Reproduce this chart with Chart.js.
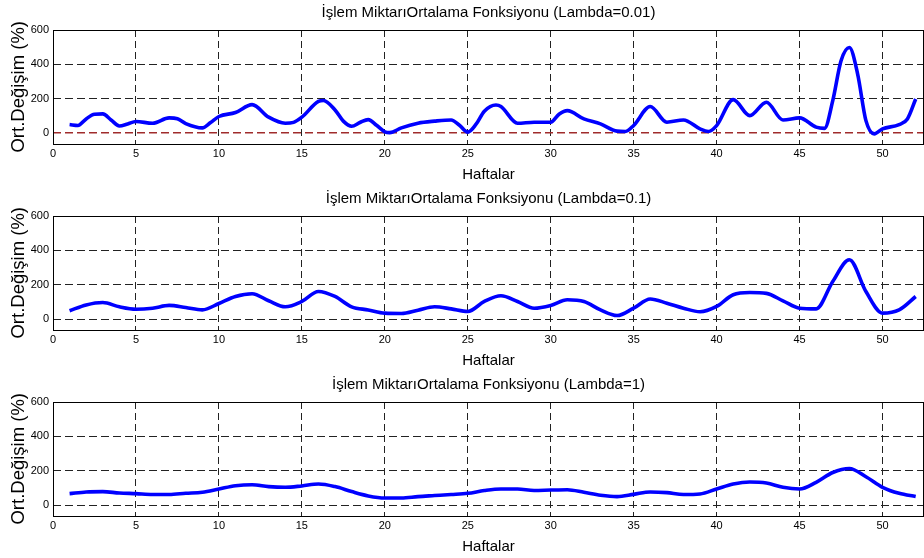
<!DOCTYPE html>
<html>
<head>
<meta charset="utf-8">
<script src="https://cdn.jsdelivr.net/npm/chart.js@4/dist/chart.umd.min.js"></script>
<style>
  html, body { margin: 0; padding: 0; background: #fff; overflow: hidden; }
  .panel { position: absolute; left: 0; width: 924px; height: 186px; }
</style>
</head>
<body>
<div class="panel" style="top:0"><canvas id="c1" width="924" height="186"></canvas></div>
<div class="panel" style="top:186px"><canvas id="c2" width="924" height="186"></canvas></div>
<div class="panel" style="top:372px"><canvas id="c3" width="924" height="186"></canvas></div>
<script>
// values
const titles = [
  'İşlem MiktarıOrtalama Fonksiyonu (Lambda=0.01)',
  'İşlem MiktarıOrtalama Fonksiyonu (Lambda=0.1)',
  'İşlem MiktarıOrtalama Fonksiyonu (Lambda=1)'
];
const xLabel = 'Haftalar';
const yLabel = 'Ort.Değişim (%)';

// lambda = 0.01 (read at extra half weeks where the curve turns sharply)
const weeksL001 = [1, 1.5, 2, 2.5, 3, 3.5, 4, 4.5, 5, 6, 7, 7.5, 8, 9, 9.5, 10, 11, 12, 13, 14, 14.5, 15, 16, 16.3,
  17, 17.5, 18, 18.5, 19, 19.5, 20, 20.3, 21, 22, 23, 24, 24.5, 25, 25.5, 26, 26.7, 27, 28, 29, 30, 30.5, 31, 32,
  33, 34, 34.5, 35, 36, 37, 38, 39, 39.5, 40, 41, 42, 43, 44, 45, 46, 46.5, 47, 47.5, 48, 48.5, 49, 49.5, 50, 51,
  51.5, 52];
const valuesL001 = [50, 45, 83, 110, 112, 77, 42, 54, 68, 58, 89, 84, 56, 31, 62, 97, 120, 166, 93, 58, 63, 93, 185, 190,
  135, 70, 40, 62, 79, 46, 8, 3, 31, 58, 70, 77, 46, 6, 52, 128, 164, 155, 58, 64, 64, 110, 131, 83,
  54, 12, 10, 45, 155, 64, 77, 25, 10, 44, 195, 102, 180, 77, 89, 35, 28, 189, 421, 498, 344, 73, -4, 25, 50,
  83, 199];

// lambda = 0.1 and lambda = 1, one value per week
const weeks = [1, 2, 3, 4, 5, 6, 7, 8, 9, 10, 11, 12, 13, 14, 15, 16, 17, 18, 19, 20, 21, 22, 23, 24, 25, 26,
  27, 28, 29, 30, 31, 32, 33, 34, 35, 36, 37, 38, 39, 40, 41, 42, 43, 44, 45, 46, 47, 48, 49, 50, 51, 52];
const valuesL01 = [49, 83, 97, 72, 58, 64, 80, 68, 54, 91, 132, 148, 107, 72, 103, 161, 132, 72, 54, 35, 33, 52,
  72, 60, 45, 103, 136, 103, 64, 80, 113, 103, 54, 21, 64, 117, 93, 64, 43, 74, 142, 155, 150, 107, 64, 60, 219,
  346, 161, 35, 54, 132];
const valuesL1 = [67, 77, 79, 71, 67, 62, 62, 69, 75, 94, 113, 119, 108, 104, 112, 123, 108, 79, 54, 42, 42, 50,
  56, 62, 69, 85, 94, 94, 85, 88, 90, 75, 58, 50, 63, 77, 73, 62, 65, 94, 123, 135, 129, 104, 94, 133, 190, 213,
  165, 104, 69, 50];

const yTicks = [0, 200, 400, 600];

const fontFamily = '"Liberation Sans", Arial, Helvetica, sans-serif';

const boxPlugin = {
  id: 'box',
  afterDraw(chart) {
    const a = chart.chartArea;
    const ctx = chart.ctx;
    ctx.save();
    ctx.strokeStyle = '#000';
    ctx.lineWidth = 1;
    ctx.strokeRect(Math.round(a.left) + 0.5, Math.round(a.top) + 0.5,
      Math.round(a.right - a.left) - 1, Math.round(a.bottom - a.top));
    ctx.restore();
  }
};

function makeChart(id, xs, ys, title, redZero) {
  const points = xs.map((x, i) => ({ x: x, y: ys[i] }));
  return new Chart(document.getElementById(id), {
    type: 'line',
    data: {
      datasets: [{
        data: points,
        borderColor: '#0000ff',
        borderWidth: 3.6,
        pointRadius: 0,
        cubicInterpolationMode: 'monotone',
        fill: false
      }]
    },
    plugins: [boxPlugin],
    options: {
      responsive: false,
      animation: false,
      devicePixelRatio: 1,
      layout: { padding: 0 },
      plugins: {
        legend: { display: false },
        tooltip: { enabled: false },
        title: {
          display: true,
          text: title,
          fullSize: false,
          color: '#000',
          font: { family: fontFamily, size: 15, weight: 'normal' },
          padding: { top: 4, bottom: 8 }
        }
      },
      scales: {
        x: {
          type: 'linear',
          min: 0,
          max: 52.5,
          afterFit(scale) { scale.height = 42.5; },
          ticks: {
            stepSize: 5,
            includeBounds: false,
            color: '#000',
            padding: 4,
            maxRotation: 0,
            font: { family: fontFamily, size: 11 }
          },
          grid: { color: '#222', lineWidth: 1, drawTicks: false },
          border: { display: false, dash: [7, 4] },
          title: {
            display: true,
            text: xLabel,
            color: '#000',
            font: { family: fontFamily, size: 15 },
            padding: { top: 0, bottom: 2 }
          }
        },
        y: {
          min: -60,
          max: 600,
          afterFit(scale) { scale.width = 53; },
          afterBuildTicks(scale) {
            scale.ticks = yTicks.map(v => ({ value: v }));
          },
          ticks: {
            color: '#000',
            padding: 4,
            font: { family: fontFamily, size: 11 }
          },
          grid: {
            drawTicks: false,
            color: ctx => (redZero && ctx.tick && ctx.tick.value === 0) ? '#a02c2c' : '#222',
            lineWidth: ctx => (redZero && ctx.tick && ctx.tick.value === 0) ? 1.6 : 1
          },
          border: { display: false, dash: [8, 4] },
          title: {
            display: true,
            text: yLabel,
            color: '#000',
            font: { family: fontFamily, size: 18.5 },
            padding: { top: 8, bottom: 0 }
          }
        }
      }
    }
  });
}

makeChart('c1', weeksL001, valuesL001, titles[0], true);
makeChart('c2', weeks, valuesL01, titles[1], false);
makeChart('c3', weeks, valuesL1, titles[2], false);
</script>
</body>
</html>
